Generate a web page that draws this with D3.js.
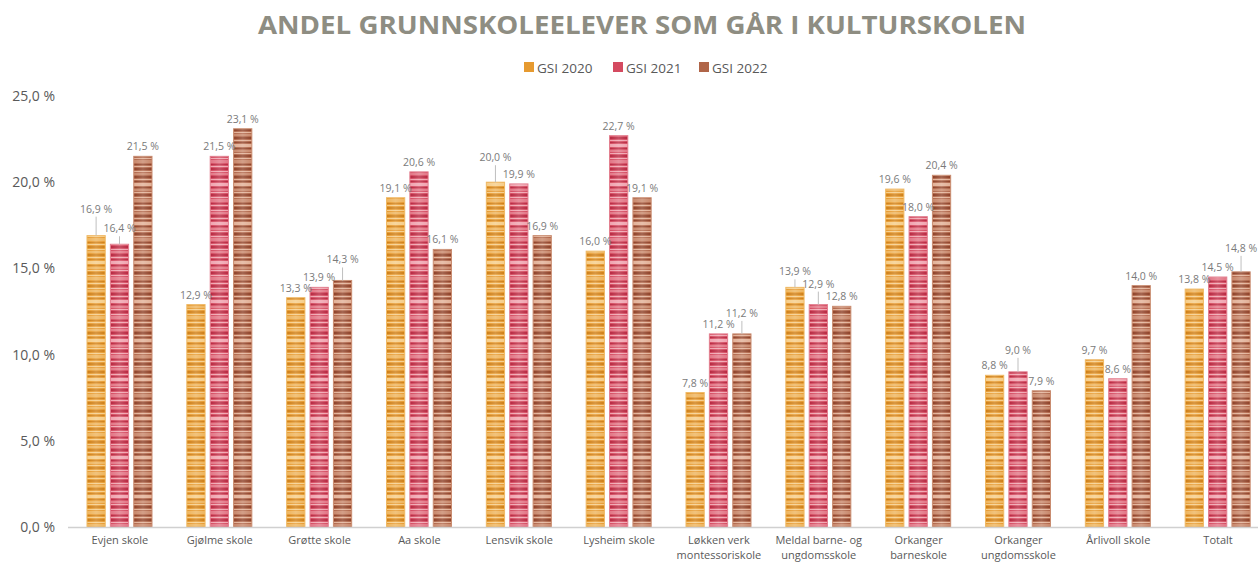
<!DOCTYPE html>
<html><head><meta charset="utf-8">
<script src="https://cdn.jsdelivr.net/npm/d3@7"></script>
<style>
body{margin:0;background:#fff;}
svg{display:block;font-family:"Open Sans","Liberation Sans",sans-serif;}
</style></head>
<body><svg id="c" width="1258" height="564"></svg>
<script>
const categories = [["Evjen skole"],["Gjølme skole"],["Grøtte skole"],["Aa skole"],["Lensvik skole"],["Lysheim skole"],["Løkken verk","montessoriskole"],["Meldal barne- og","ungdomsskole"],["Orkanger","barneskole"],["Orkanger","ungdomsskole"],["Årlivoll skole"],["Totalt"]];
const seriesNames = ["GSI 2020","GSI 2021","GSI 2022"];
const gsi2020 = [16.9,12.9,13.3,19.1,20.0,16.0,7.8,13.9,19.6,8.8,9.7,13.8];
const gsi2021 = [16.4,21.5,13.9,20.6,19.9,22.7,11.2,12.9,18.0,9.0,8.6,14.5];
const gsi2022 = [21.5,23.1,14.3,16.1,16.9,19.1,11.2,12.8,20.4,7.9,14.0,14.8];
const yTicks = [0,5,10,15,20,25];
// extra lift (px) of data labels that Excel moved up with a leader line
const lift2020 = [17,0,0,0,15,0,0,6,0,0,0,0];
const lift2021 = [6,0,0,0,0,0,0,11,0,12,0,0];
const lift2022 = [0,0,11,0,0,0,11,0,0,0,0,14];

const series = [gsi2020,gsi2021,gsi2022];
const lifts = [lift2020,lift2021,lift2022];
const palettes = [
  {base:"#e69a30",dark:"#cf7e14",light:"#f6cd88",mid:"#eeb45c",edge:"#efb965"},
  {base:"#d44a60",dark:"#b8263f",light:"#f0a3af",mid:"#e27585",edge:"#e27e8e"},
  {base:"#b06548",dark:"#8e4026",light:"#e2b096",mid:"#c8876a",edge:"#c98c70"}
];
const svg = d3.select("#c");
const W=1258,H=564;

// patterns
const defs = svg.append("defs");
const stripes = [[0,2,"dark"],[3,1,"light"],[5,1,"dark"],[7,3,"light"],[11,1,"dark"],[13,2,"mid"],[16,1,"light"],[18,2,"dark"],[21,1,"light"],[23,3,"mid"],[27,1,"dark"],[29,1,"light"],[31,2,"dark"],[34,1,"light"],[36,2,"mid"]];
palettes.forEach((p,i)=>{
  const pat = defs.append("pattern").attr("id","pat"+i).attr("patternUnits","userSpaceOnUse")
    .attr("width",40).attr("height",39).attr("y",527);
  pat.append("rect").attr("width",40).attr("height",39).attr("fill",p.base);
  stripes.forEach(s=>pat.append("rect").attr("y",s[0]).attr("width",40).attr("height",s[1]).attr("fill",p[s[2]]));
  const g = defs.append("linearGradient").attr("id","sh"+i).attr("x1",0).attr("x2",1).attr("y1",0).attr("y2",0);
  g.append("stop").attr("offset","0%").attr("stop-color","#fff").attr("stop-opacity",0.0);
  g.append("stop").attr("offset","50%").attr("stop-color","#fff").attr("stop-opacity",0.2);
  g.append("stop").attr("offset","100%").attr("stop-color","#fff").attr("stop-opacity",0.0);
});

// title
svg.append("text").attr("x",642).attr("y",34).attr("text-anchor","middle")
  .attr("font-size",25).attr("font-weight","bold").attr("fill","#8e8d82")
  .attr("textLength",768).attr("lengthAdjust","spacingAndGlyphs")
  .text("ANDEL GRUNNSKOLEELEVER SOM GÅR I KULTURSKOLEN");

// legend
const legX=[524,613,699];
seriesNames.forEach((n,i)=>{
  svg.append("rect").attr("x",legX[i]).attr("y",62).attr("width",10).attr("height",10).attr("fill",palettes[i].base);
  svg.append("text").attr("x",legX[i]+13).attr("y",72.5).attr("font-size",13.5).attr("fill","#595959").text(n);
});

const y = d3.scaleLinear().domain([0,25]).range([527,96]);
const x0 = d3.scaleBand().domain(d3.range(categories.length)).range([70,1268]).paddingInner(0).paddingOuter(0);
const x1 = d3.scaleBand().domain([0,1,2]).range([17,82]).paddingInner(0.22);

// y axis labels
svg.append("g").selectAll("text").data(yTicks).join("text")
  .attr("x",55).attr("y",d=>y(d)+5).attr("text-anchor","end").attr("font-size",14).attr("fill","#595959")
  .text(d=>d3.format(".1f")(d).replace(".",",")+" %");

// bars
series.forEach((vals,si)=>{
  const g = svg.append("g");
  g.selectAll("rect.b").data(vals).join("rect").attr("class","b")
    .attr("x",(d,i)=>x0(i)+x1(si)).attr("width",x1.bandwidth())
    .attr("y",d=>y(d)).attr("height",d=>y(0)-y(d))
    .attr("fill","url(#pat"+si+")").attr("stroke",palettes[si].edge).attr("stroke-width",1);
  g.selectAll("rect.s").data(vals).join("rect").attr("class","s")
    .attr("x",(d,i)=>x0(i)+x1(si)).attr("width",x1.bandwidth())
    .attr("y",d=>y(d)).attr("height",d=>y(0)-y(d)).attr("fill","url(#sh"+si+")");
});

// axis line
svg.append("line").attr("x1",68).attr("x2",W).attr("y1",527.5).attr("y2",527.5).attr("stroke","#d0d0d0").attr("stroke-width",1.5);

// data labels
series.forEach((vals,si)=>{
  vals.forEach((v,i)=>{
    const cx = x0(i)+x1(si)+x1.bandwidth()/2;
    const top = y(v);
    const lift = lifts[si][i];
    const base = top-6-lift;
    if(lift>0){
      svg.append("line").attr("x1",cx).attr("x2",cx).attr("y1",base+4).attr("y2",top)
        .attr("stroke","#bfbfbf").attr("stroke-width",1);
    }
    svg.append("text").attr("x",cx).attr("y",base).attr("text-anchor","middle")
      .attr("font-size",10.5).attr("fill","#7a7a7a")
      .text(d3.format(".1f")(v).replace(".",",")+" %");
  });
});

// x labels
categories.forEach((lines,i)=>{
  const t = svg.append("text").attr("x",x0(i)+x0.bandwidth()/2).attr("y",544).attr("text-anchor","middle")
    .attr("font-size",11).attr("fill","#595959");
  lines.forEach((l,k)=>t.append("tspan").attr("x",x0(i)+x0.bandwidth()/2).attr("dy",k?15:0).text(l));
});
</script></body></html>
